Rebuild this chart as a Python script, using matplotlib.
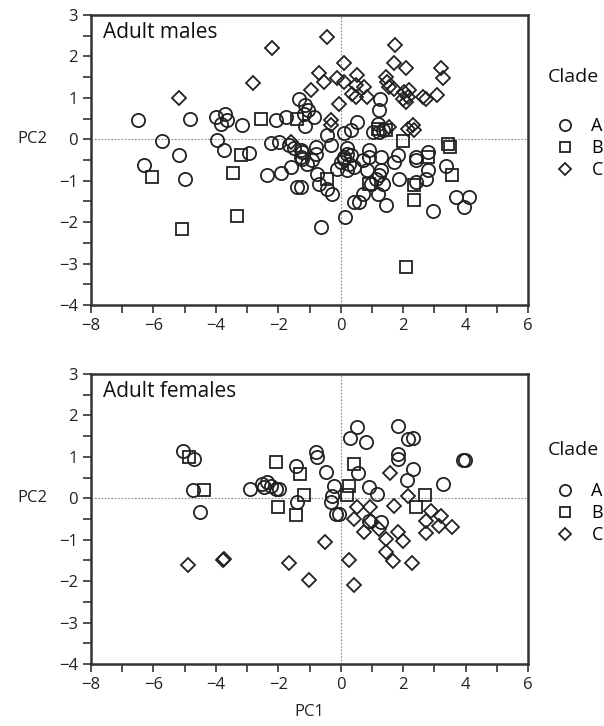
import matplotlib
matplotlib.use("Agg")
import matplotlib.pyplot as plt
from matplotlib.ticker import MultipleLocator

plt.rcParams['font.family'] = ['Open Sans', 'DejaVu Sans']

# ---------------------------------------------------------------
# datos (PC1, PC2)
# ---------------------------------------------------------------
machos_A_x = [-6.48, -4.83, -4.0, -3.71, -3.85, -3.63, -3.15, -2.08, -1.76, -1.35, -1.15, -1.05,
              -1.18, -0.86, -1.15, -5.74, -3.97, -3.74, -2.94, -5.18, -2.24, -1.98, -1.66, -1.5,
              -1.23, -6.3, -5.0, -2.37, -1.92, -1.6, -1.39, -1.28, -1.07, 1.26, 1.23, -0.43,
              0.11, 0.32, 0.53, 1.02, 1.18, 1.23, 1.34, -1.28, -0.8, -0.8, -0.32, 0.21, 0.11,
              0.21, 0.32, 0.91, 1.28, 1.82, 2.4, 2.78, -1.23, -0.91, -0.75, -0.69, -0.43,
              -0.27, -1.28, -0.64, 0.14, -0.11, 0.0, 0.11, 0.27, 0.21, 0.43, 0.7, 0.91, 0.85,
              0.43, 0.59, 0.7, 0.96, 1.12, 1.23, 1.34, 1.18, 1.44, 1.28, 1.71, 1.87, 2.4, 2.4,
              2.72, 2.78, 2.94, 3.37, 3.69, 3.95, 4.11]
machos_A_y = [0.46, 0.5, 0.54, 0.62, 0.38, 0.46, 0.35, 0.46, 0.54, 0.98, 0.82, 0.7,
              0.6, 0.54, 0.32, -0.04, -0.02, -0.27, -0.33, -0.39, -0.1, -0.07, -0.14, -0.22,
              -0.31, -0.63, -0.97, -0.85, -0.81, -0.67, -1.14, -0.43, -0.59, 0.98, 0.7, 0.1,
              0.14, 0.22, 0.42, 0.18, 0.38, 0.18, 0.22, -0.27, -0.19, -0.35, -0.14, -0.22, -0.43,
              -0.35, -0.39, -0.27, -0.43, -0.39, -0.43, -0.3, -0.47, -0.51, -0.83, -1.07, -1.19,
              -1.31, -1.15, -2.12, -1.88, -0.71, -0.55, -0.47, -0.59, -0.75, -0.67, -0.51, -0.43, -0.75,
              -1.51, -1.51, -1.31, -1.07, -0.95, -0.87, -1.07, -1.31, -1.58, -0.75, -0.55, -0.95, -0.51, -1.03,
              -0.95, -0.75, -1.73, -0.65, -1.39, -1.63, -1.39]

machos_B_x = [-2.54, -1.39, -3.2, -6.04, -3.45, -3.33, -5.07, 1.18, 1.44, 2.01, 3.45, 3.5,
              -0.43, 0.91, 2.35, 2.35, 3.58, 2.78, 2.08]
machos_B_y = [0.5, 0.5, -0.37, -0.91, -0.81, -1.84, -2.17, 0.26, 0.22, -0.05, -0.12, -0.18,
              -0.95, -1.07, -1.11, -1.47, -0.87, -0.43, -3.08]

machos_C_x = [-2.21, -2.8, -5.18, -1.6, -0.45, 1.73, 0.11, 1.71, 2.08, 3.2, 3.29, -0.7,
              -0.53, -0.11, 0.53, 0.11, 0.48, 0.75, 1.44, 1.47, 1.55, 1.71, -0.96, 0.37,
              0.48, 0.85, 2.03, 2.14, 1.98, 2.19, 2.08, 2.62, 2.72, 3.1, -0.05, -0.32,
              -0.32, 1.55, 2.14, 2.3, 2.35]
machos_C_y = [2.2, 1.35, 1.0, -0.06, 2.47, 2.27, 1.83, 1.83, 1.73, 1.71, 1.47, 1.59,
              1.38, 1.47, 1.55, 1.38, 1.30, 1.26, 1.5, 1.38, 1.26, 1.22, 1.18, 1.1,
              1.02, 1.02, 1.14, 1.02, 0.98, 1.18, 0.9, 1.02, 0.98, 1.06, 0.86, 0.46,
              0.34, 0.3, 0.26, 0.34, 0.22]

hembras_A_x = [-5.04, -4.7, -4.72, -4.51, -2.91, -2.51, -2.35, -2.24, -2.08, -1.98, -2.46,
               -1.44, -1.39, 0.51, 0.30, 0.82, 1.85, 2.14, 2.32, 1.82, 1.82, 2.32, 2.12,
               3.28, 3.93, 3.97, -0.8, -0.75, -0.46, 0.55, -0.21, -0.27, -0.32, 0.91, 1.15,
               -0.16, -0.05, 0.91, 1.28]
hembras_A_y = [1.15, 0.95, 0.21, -0.32, 0.22, 0.34, 0.39, 0.3, 0.22, 0.22, 0.27,
               0.79, -0.08, 1.71, 1.45, 1.37, 1.75, 1.43, 1.45, 1.07, 0.95, 0.71, 0.45,
               0.34, 0.93, 0.93, 1.11, 0.99, 0.64, 0.61, 0.3, 0.06, -0.08, 0.27, 0.1,
               -0.38, -0.38, -0.54, -0.58]

hembras_B_x = [-4.86, -4.38, -2.06, -2.0, -1.3, -1.17, -1.44, 0.43, 0.27, 0.21, 2.69, 2.4]
hembras_B_y = [0.99, 0.21, 0.88, -0.22, 0.59, 0.08, -0.4, 0.84, 0.3, 0.08, 0.08, -0.22]

hembras_C_x = [-4.88, -3.77, -3.75, -1.66, -1.01, 1.58, 2.15, 1.71, 0.53, 0.94, 2.88, 3.2,
               0.43, 0.96, 0.75, 1.23, 1.44, 1.82, 1.98, 1.44, 1.66, 2.28, 2.72, 3.15,
               3.58, 2.72, -0.51, 0.27, 0.41]
hembras_C_y = [-1.62, -1.49, -1.47, -1.56, -1.98, 0.61, 0.05, -0.19, -0.22, -0.22, -0.3, -0.42,
               -0.5, -0.54, -0.82, -0.74, -0.98, -0.82, -1.02, -1.30, -1.52, -1.56, -0.54, -0.66,
               -0.7, -0.84, -1.06, -1.5, -2.09]

clados = ["A", "B", "C"]
marcadores = {"A": ("o", 9.5), "B": ("s", 9.0), "C": ("D", 7.6)}
color = "#222222"


def panel(ax, titulo, series, titulo_ley_y, ley_y):
    """Dibuja un panel de PCA con las tres clades."""
    for clado, (xs, ys) in zip(clados, series):
        m, ms = marcadores[clado]
        ax.plot(xs, ys, linestyle="none", marker=m, markersize=ms,
                markerfacecolor="none", markeredgecolor=color,
                markeredgewidth=1.3, label=clado)

    # lineas de referencia en cero
    ax.axhline(0, color="#888888", lw=0.8, ls=(0, (1.5, 1.5)), zorder=0)
    ax.axvline(0, color="#888888", lw=0.8, ls=(0, (1.5, 1.5)), zorder=0)

    ax.set_xlim(-8, 6)
    ax.set_ylim(-4, 3)
    ax.xaxis.set_major_locator(MultipleLocator(2))
    ax.xaxis.set_minor_locator(MultipleLocator(1))
    ax.yaxis.set_major_locator(MultipleLocator(1))
    ax.yaxis.set_minor_locator(MultipleLocator(0.5))
    ax.tick_params(which="both", direction="out", color="#333333", width=1.2,
                   labelsize=12, labelcolor="#222222", length=6)
    for s in ax.spines.values():
        s.set_linewidth(1.8)
        s.set_color("#333333")

    ax.text(0.027, 0.975, titulo, transform=ax.transAxes, ha="left", va="top",
            fontsize=15, color="#111111")
    # PC2 a la altura del cero
    ax.set_ylabel("PC2", rotation=0, fontsize=12, color="#222222", va="center")
    ax.yaxis.set_label_coords(-0.135, 4 / 7)

    # leyenda fuera del panel, con el titulo separado
    ax.text(1.046, titulo_ley_y, "Clade", transform=ax.transAxes, ha="left",
            va="center", fontsize=14, color="#111111")
    ley = ax.legend(loc="upper left", bbox_to_anchor=(1.044, ley_y), frameon=False,
                    fontsize=13, handletextpad=0.45, labelspacing=0.22,
                    borderaxespad=0, borderpad=0)
    for h in ley.legend_handles:
        h.set_markersize(h.get_markersize() * 0.85)


fig = plt.figure(figsize=(6.04, 7.26), dpi=100)
ax1 = fig.add_axes([0.1507, 0.5799, 0.7235, 0.3994])
ax2 = fig.add_axes([0.1507, 0.0854, 0.7235, 0.3994])

panel(ax1, "Adult males", [(machos_A_x, machos_A_y), (machos_B_x, machos_B_y),
                           (machos_C_x, machos_C_y)], 0.786, 0.648)
panel(ax2, "Adult females", [(hembras_A_x, hembras_A_y), (hembras_B_x, hembras_B_y),
                             (hembras_C_x, hembras_C_y)], 0.738, 0.628)
ax2.set_xlabel("PC1", fontsize=12, color="#222222", labelpad=8)

fig.savefig("out.png", dpi=100)
